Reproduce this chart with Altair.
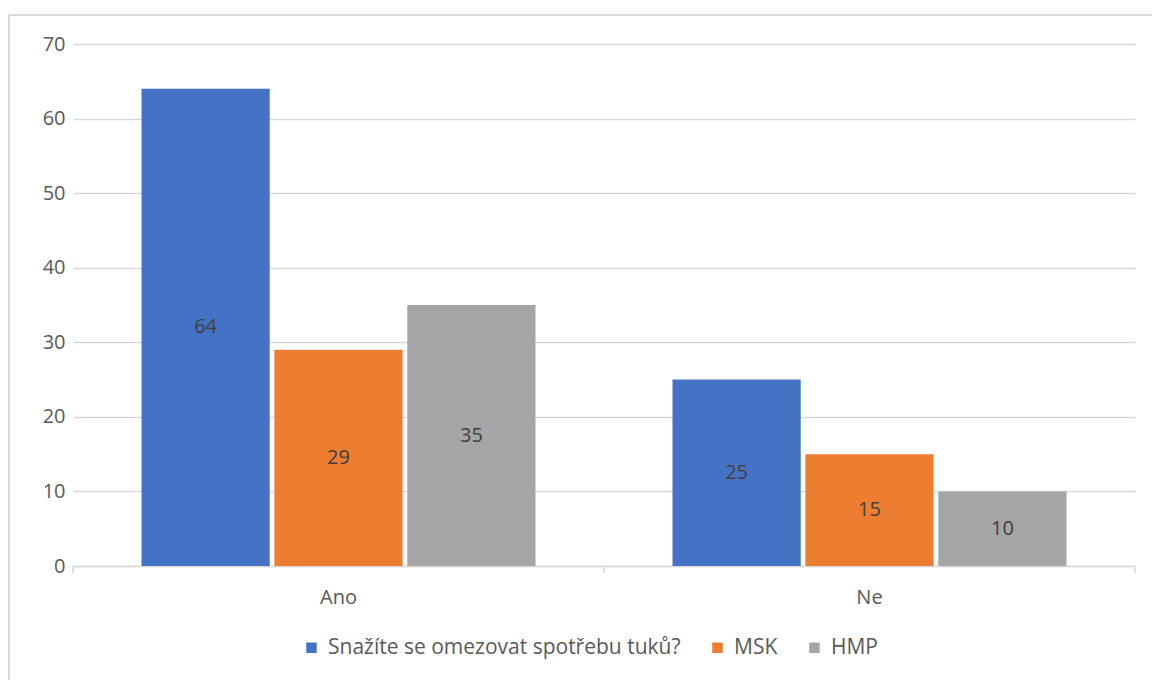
import altair as alt
import pandas as pd

# Survey answers and the share of respondents per group
categories = ["Ano", "Ne"]
series = ["Snažíte se omezovat spotřebu tuků?", "MSK", "HMP"]
values_survey = [64, 25]
values_msk = [29, 15]
values_hmp = [35, 10]
colors = ["#4472C4", "#ED7D31", "#A5A5A5"]

rows = []
for name, vals in zip(series, [values_survey, values_msk, values_hmp]):
    for cat, v in zip(categories, vals):
        rows.append({"kategorie": cat, "skupina": name, "hodnota": v, "mid": v / 2})
df = pd.DataFrame(rows)

W, H = 1062, 522
FONT = "Open Sans"
FS = 20

x_scale = alt.Scale(domain=categories, paddingInner=0.258, paddingOuter=0.129)
xo_scale = alt.Scale(domain=series, paddingInner=0.035, paddingOuter=0)
y_scale = alt.Scale(domain=[0, 70], nice=False)

bars = alt.Chart(df).mark_bar().encode(
    x=alt.X(
        "kategorie:N",
        scale=x_scale,
        axis=alt.Axis(
            title=None, labelAngle=0, ticks=False, domain=True, domainColor="#D9D9D9",
            domainWidth=1.5, labelFontSize=FS, labelColor="#595959", labelFont=FONT,
            labelPadding=21, grid=False,
        ),
    ),
    xOffset=alt.XOffset("skupina:N", scale=xo_scale),
    y=alt.Y(
        "hodnota:Q",
        scale=y_scale,
        axis=alt.Axis(
            title=None, values=[0, 10, 20, 30, 40, 50, 60, 70], domain=False, ticks=False,
            gridColor="#D9D9D9", gridWidth=1.5, labelFontSize=FS, labelColor="#595959",
            labelFont=FONT, labelPadding=8,
        ),
    ),
    color=alt.Color(
        "skupina:N",
        scale=alt.Scale(domain=series, range=colors),
        legend=alt.Legend(
            title=None, orient="none", direction="horizontal", legendX=228, legendY=593,
            symbolType="square", symbolSize=110, symbolStrokeWidth=0, labelFontSize=21,
            labelColor="#595959", labelFont=FONT, columnPadding=26, labelOffset=6,
            labelLimit=0,
        ),
    ),
)

labels = alt.Chart(df).mark_text(fontSize=FS, color="#404040", font=FONT).encode(
    x=alt.X("kategorie:N", scale=x_scale, axis=None),
    xOffset=alt.XOffset("skupina:N", scale=xo_scale),
    y=alt.Y("mid:Q", scale=y_scale),
    text=alt.Text("hodnota:Q"),
)

# Category boundary ticks on the x axis
ticks = alt.Chart(pd.DataFrame({"t": [0, 531, 1062]})).mark_rule(
    color="#D9D9D9", strokeWidth=1.5
).encode(x=alt.X("t:Q", scale=alt.Scale(domain=[0, W]), axis=None),
         y=alt.value(H), y2=alt.value(H + 7))

# Outer frame of the chart
frame = alt.Chart(pd.DataFrame({"a": [0]})).mark_rule(color="#D9D9D9", strokeWidth=2).encode(
    x=alt.value(-64), x2=alt.value(W + 100), y=alt.value(-29)
)
frame_left = alt.Chart(pd.DataFrame({"a": [0]})).mark_rule(color="#D9D9D9", strokeWidth=2).encode(
    x=alt.value(-64), y=alt.value(-29), y2=alt.value(H + 200)
)

chart = (
    alt.layer(bars, labels, ticks, frame, frame_left)
    .resolve_scale(x="independent")
    .properties(
        width=W, height=H,
        autosize=alt.AutoSizeParams(type="none"),
        padding={"left": 73, "top": 44, "right": 17, "bottom": 114},
        view=alt.ViewBackground(stroke="transparent", strokeWidth=0),
    )
    .configure_view(stroke="transparent", strokeWidth=0)
    .configure_axis(grid=False)
    .configure_axisY(grid=True)
    .configure(background="white")
)

chart.save("out.html", embed_options={"renderer": "svg", "actions": False})
